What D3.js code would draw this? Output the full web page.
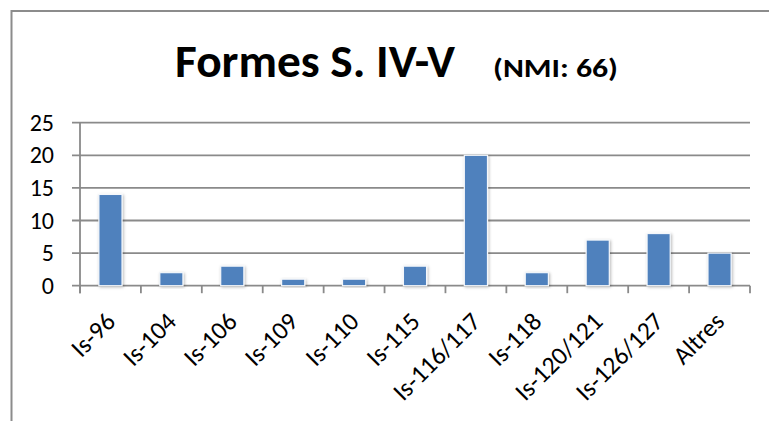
<!DOCTYPE html>
<html>
<head>
<meta charset="utf-8">
<script src="https://cdn.jsdelivr.net/npm/d3@7/dist/d3.min.js"></script>
<style>
    body { margin: 0; background: #fff; }
    svg { display: block; font-family: Carlito, Calibri, Lato, sans-serif; }
</style>
</head>
<body>
<svg id="chart" width="769" height="421"></svg>
<script>
'use strict';

// chart data
var categories = ["Is-96", "Is-104", "Is-106", "Is-109", "Is-110", "Is-115",
    "Is-116/117", "Is-118", "Is-120/121", "Is-126/127", "Altres"];
var counts = [14, 2, 3, 1, 1, 3, 20, 2, 7, 8, 5];
var yTicks = [0, 5, 10, 15, 20, 25];
var titleMain = "Formes S. IV-V";
var titleSub = "(NMI: 66)";

var svg = d3.select("#chart");

var plot = { left: 80, right: 750, top: 122.7, bottom: 285.7 };

// outer frame of the chart object (runs off the right and bottom edges)
svg.append("rect")
    .attr("x", 11.5)
    .attr("y", 11)
    .attr("width", 900)
    .attr("height", 600)
    .attr("fill", "#fff")
    .attr("stroke", "#8c8c8c")
    .attr("stroke-width", 2);

var defs = svg.append("defs");
var shadow = defs.append("filter")
    .attr("id", "barShadow")
    .attr("x", "-50%").attr("y", "-20%")
    .attr("width", "200%").attr("height", "140%");
shadow.append("feDropShadow")
    .attr("dx", 1)
    .attr("dy", 1)
    .attr("stdDeviation", 1.6)
    .attr("flood-color", "#000")
    .attr("flood-opacity", 0.28);

var band = d3.scaleBand()
    .domain(categories)
    .range([plot.left, plot.right]);

var x = d3.scaleBand()
    .domain(categories)
    .range([plot.left, plot.right])
    .paddingInner(0.62)
    .paddingOuter(0.31);

var y = d3.scaleLinear()
    .domain([0, 25])
    .range([plot.bottom, plot.top]);

//gridlines + left ticks
svg.append("g").selectAll(".grid")
    .data(yTicks)
    .enter()
    .append("line")
    .attr("class", "grid")
    .attr("x1", plot.left - 8)
    .attr("x2", plot.right)
    .attr("y1", function (d) { return y(d); })
    .attr("y2", function (d) { return y(d); })
    .attr("stroke", "#8a8a8a")
    .attr("stroke-width", 1.8);

// y labels
var yAxis = svg.append("g")
    .attr("transform", "translate(" + plot.left + ",0)")
    .call(d3.axisLeft(y).tickValues(yTicks).tickSize(0).tickPadding(26));
yAxis.select(".domain").remove();
yAxis.selectAll("text")
    .attr("font-family", "Carlito, Calibri, Lato, sans-serif")
    .attr("font-size", 24)
    .attr("fill", "#000");

// vertical axis line
svg.append("line")
    .attr("x1", plot.left).attr("x2", plot.left)
    .attr("y1", plot.top).attr("y2", plot.bottom + 7.5)
    .attr("stroke", "#8a8a8a")
    .attr("stroke-width", 1.8);

// category tick marks at band boundaries
var bounds = categories.map(function (c) { return band(c); }).concat([plot.right]);
svg.append("g").selectAll(".xtick")
    .data(bounds)
    .enter()
    .append("line")
    .attr("x1", function (d) { return d; })
    .attr("x2", function (d) { return d; })
    .attr("y1", plot.bottom)
    .attr("y2", plot.bottom + 7.5)
    .attr("stroke", "#8a8a8a")
    .attr("stroke-width", 1.8);

// bars
svg.append("g").selectAll(".bar")
    .data(counts)
    .enter()
    .append("rect")
    .attr("class", "bar")
    .attr("x", function (d, i) { return x(categories[i]); })
    .attr("width", x.bandwidth())
    .attr("y", function (d) { return y(d); })
    .attr("height", function (d) { return y(0) - y(d); })
    .attr("fill", "#4f81bd")
    .attr("stroke", "#f4f7fb")
    .attr("stroke-width", 1.2)
    .attr("filter", "url(#barShadow)");

// rotated category labels
svg.append("g").selectAll(".xlabel")
    .data(categories)
    .enter()
    .append("text")
    .attr("class", "xlabel")
    .attr("transform", function (d) {
        return "translate(" + (band(d) + band.bandwidth() / 2) + "," + (plot.bottom + 31) + ") rotate(-45)";
    })
    .attr("text-anchor", "end")
    .attr("dy", "0.35em")
    .attr("font-size", 25.5)
    .attr("fill", "#000")
    .text(function (d) { return d; });

// title
var title = svg.append("text")
    .attr("y", 76.7)
    .attr("font-weight", "bold")
    .attr("fill", "#000");
title.append("tspan")
    .attr("x", 175)
    .attr("font-size", 46)
    .attr("textLength", 280)
    .attr("lengthAdjust", "spacingAndGlyphs")
    .text(titleMain);
title.append("tspan")
    .attr("x", 493)
    .attr("font-size", 26)
    .attr("textLength", 125)
    .attr("lengthAdjust", "spacingAndGlyphs")
    .text(titleSub);
</script>
</body>
</html>
